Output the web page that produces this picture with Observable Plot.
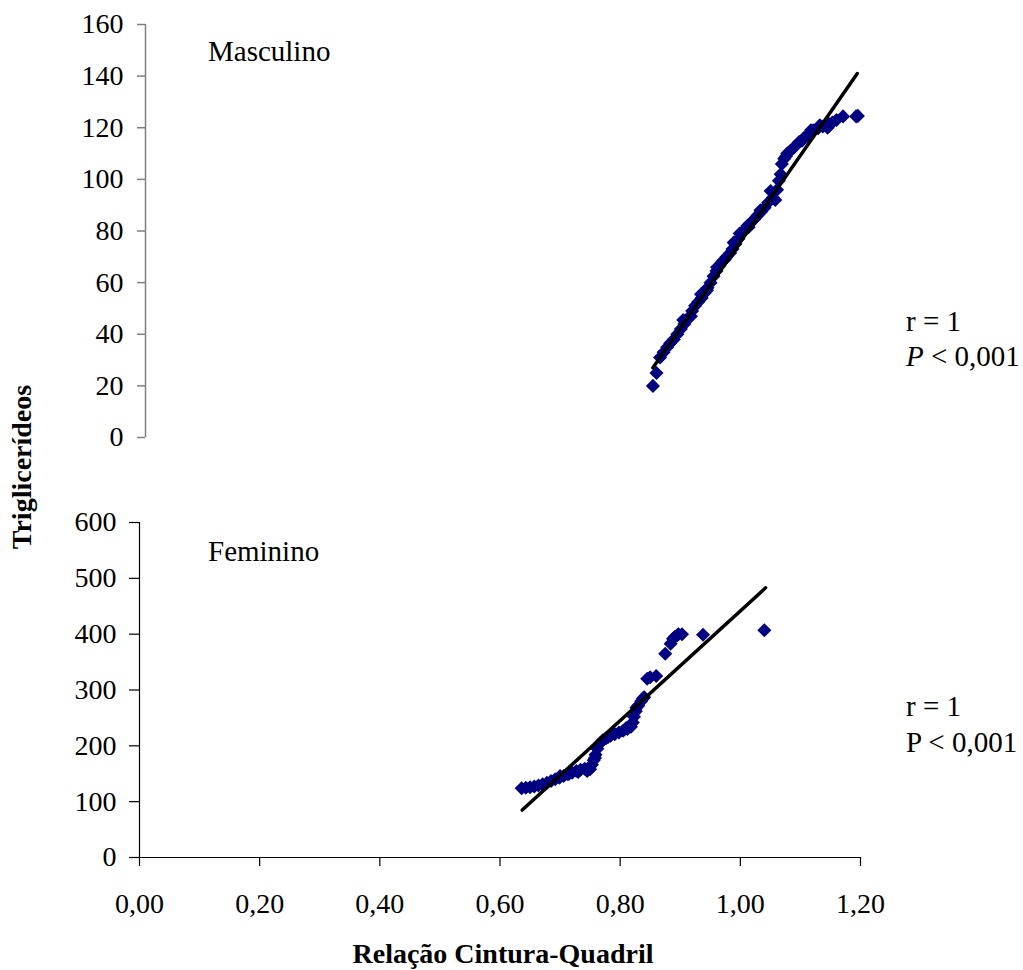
<!DOCTYPE html>
<html>
<head>
<meta charset="utf-8">
<script src="https://cdn.jsdelivr.net/npm/d3@7"></script>
<script src="https://cdn.jsdelivr.net/npm/@observablehq/plot@0.6"></script>
<style>
  body { margin: 0; background: #fff; }
  #wrap { position: relative; width: 1023px; height: 970px; font-family: "Liberation Serif", "Times New Roman", serif; color: #000; }
  #wrap svg { position: absolute; left: 0; overflow: visible; }
  .lbl { position: absolute; font-size: 29px; white-space: nowrap; line-height: 1; }
</style>
</head>
<body>
<div id="wrap">
  <div class="lbl" style="left:208px; top:37px;">Masculino</div>
  <div class="lbl" style="left:208px; top:537px;">Feminino</div>
  <div class="lbl" style="left:906px; top:307px;">r = 1</div>
  <div class="lbl" style="left:906px; top:342px;"><i>P</i> &lt; 0,001</div>
  <div class="lbl" style="left:906px; top:692px;">r = 1</div>
  <div class="lbl" style="left:906px; top:728px;">P &lt; 0,001</div>
  <div class="lbl" id="xtitle" style="left:503px; top:940px; font-size:28px; font-weight:bold; transform:translateX(-50%);">Relação Cintura-Quadril</div>
  <div class="lbl" id="ytitle" style="left:22px; top:467px; font-size:28px; font-weight:bold; transform:translate(-50%,-50%) rotate(-90deg);">Triglicerídeos</div>
</div>
<script>
// Masculino: Relação Cintura-Quadril vs Triglicerídeos
const maleRCQ = [0.854,0.860,0.866,0.872,0.878,0.883,0.889,0.895,0.901,0.905,0.907,0.914,0.918,0.920,0.925,0.930,0.935,0.936,0.941,0.945,0.946,0.951,0.956,0.961,0.962,0.966,0.972,0.975,0.978,0.984,0.988,0.990,0.993,0.998,1.000,1.003,1.008,1.013,1.015,1.018,1.024,1.030,1.035,1.036,1.042,1.048,1.052,1.056,1.060,1.063,1.066,1.069,1.071,1.075,1.078,1.080,1.085,1.092,1.100,1.105,1.108,1.116,1.120,1.124,1.132,1.135,1.140,1.148,1.150,1.156,1.163,1.174,1.196,1.199];
const maleTG  = [20,25,31,33,35,36.5,38,40,42,45.5,44,46.5,47,49,51,52.5,55.5,54,56,57,58,60,62.5,64.5,66,66.5,68.5,69,70,71.5,73,75.5,75,77,79,79,80.5,82,81.5,83,84.5,86,88,87.5,89,91,95.5,93,92,96,99.5,102,106,108,109,110,111,112.5,114.5,115,116,117.5,119,119,119.8,121,120.5,120,121.5,122,123,124.4,124.4,124.6];
const maleFitRCQ = [0.854, 1.198];
const maleFitTG  = [27, 141];

// Feminino
const femRCQ = [0.636,0.643,0.650,0.657,0.664,0.671,0.678,0.685,0.692,0.699,0.700,0.706,0.713,0.715,0.720,0.727,0.730,0.734,0.741,0.745,0.748,0.750,0.753,0.756,0.758,0.759,0.762,0.766,0.771,0.777,0.780,0.784,0.791,0.798,0.805,0.810,0.812,0.818,0.821,0.823,0.826,0.827,0.830,0.835,0.838,0.840,0.845,0.850,0.860,0.875,0.884,0.888,0.891,0.895,0.897,0.903,0.938,1.040];
const femTG  = [124,125,126,127,129,131,134,137,140,143,146,146,149,150,152,155,153,157,159,155,161,158,166,174,178,184,195,204,210,214,216,218,221,224,227,232,230,234,242,252,262,268,272,280,285,287,320,323,325,365,383,392,395,398,400,400,399,407];
const femFitRCQ = [0.637, 1.042];
const femFitTG  = [85, 483];

const maleYTicks = [0,20,40,60,80,100,120,140,160];
const femYTicks = [0,100,200,300,400,500,600];
const xTicks = [0,0.2,0.4,0.6,0.8,1.0,1.2];

const fmtX = d => d.toFixed(2).replace(".", ",");
const pts = (xs, ys) => xs.map((x, i) => ({x, y: ys[i]}));

const male = pts(maleRCQ, maleTG);
const maleFit = pts(maleFitRCQ, maleFitTG);
const fem = pts(femRCQ, femTG);
const femFit = pts(femFitRCQ, femFitTG);

const dotOpts = {x: "x", y: "y", symbol: "square", r: 5.6, rotate: 45, fill: "#000080", stroke: null};
const fontStyle = {fontFamily: "'Liberation Serif', 'Times New Roman', serif", fontSize: "28px", background: "transparent", color: "#000", overflow: "visible"};

const chartTop = Plot.plot({
  width: 1023, height: 460,
  marginLeft: 145, marginRight: 165, marginTop: 24, marginBottom: 23,
  style: fontStyle,
  x: {domain: [0, 1.2], axis: null},
  y: {domain: [0, 160]},
  marks: [
    Plot.ruleX([0], {y1: 0, y2: 160, stroke: "#808080", strokeWidth: 1.5}),
    Plot.axisY({ticks: maleYTicks, tickSize: 8, tickPadding: 14, stroke: "#808080", strokeWidth: 1.5, label: null}),
    Plot.dot(male, dotOpts),
    Plot.line(maleFit, {x: "x", y: "y", stroke: "#000", strokeWidth: 3.5})
  ]
});
chartTop.style.top = "0px";

const chartBottom = Plot.plot({
  width: 1023, height: 490,
  marginLeft: 139, marginRight: 163, marginTop: 42, marginBottom: 113,
  style: fontStyle,
  x: {domain: [0, 1.2]},
  y: {domain: [0, 600]},
  marks: [
    Plot.ruleX([0], {y1: 0, y2: 600, stroke: "#000", strokeWidth: 1.2}),
    Plot.ruleY([0], {x1: 0, x2: 1.2, stroke: "#000", strokeWidth: 1.2}),
    Plot.axisY({ticks: femYTicks, tickSize: 10, tickPadding: 13, stroke: "#000", strokeWidth: 1.2, label: null}),
    Plot.axisX({ticks: xTicks, tickSize: 9, tickPadding: 27, tickFormat: fmtX, stroke: "#000", strokeWidth: 1.2, label: null}),
    Plot.dot(fem, dotOpts),
    Plot.line(femFit, {x: "x", y: "y", stroke: "#000", strokeWidth: 3.5})
  ]
});
chartBottom.style.top = "480px";

const wrap = document.getElementById("wrap");
wrap.appendChild(chartTop);
wrap.appendChild(chartBottom);
</script>
</body>
</html>
